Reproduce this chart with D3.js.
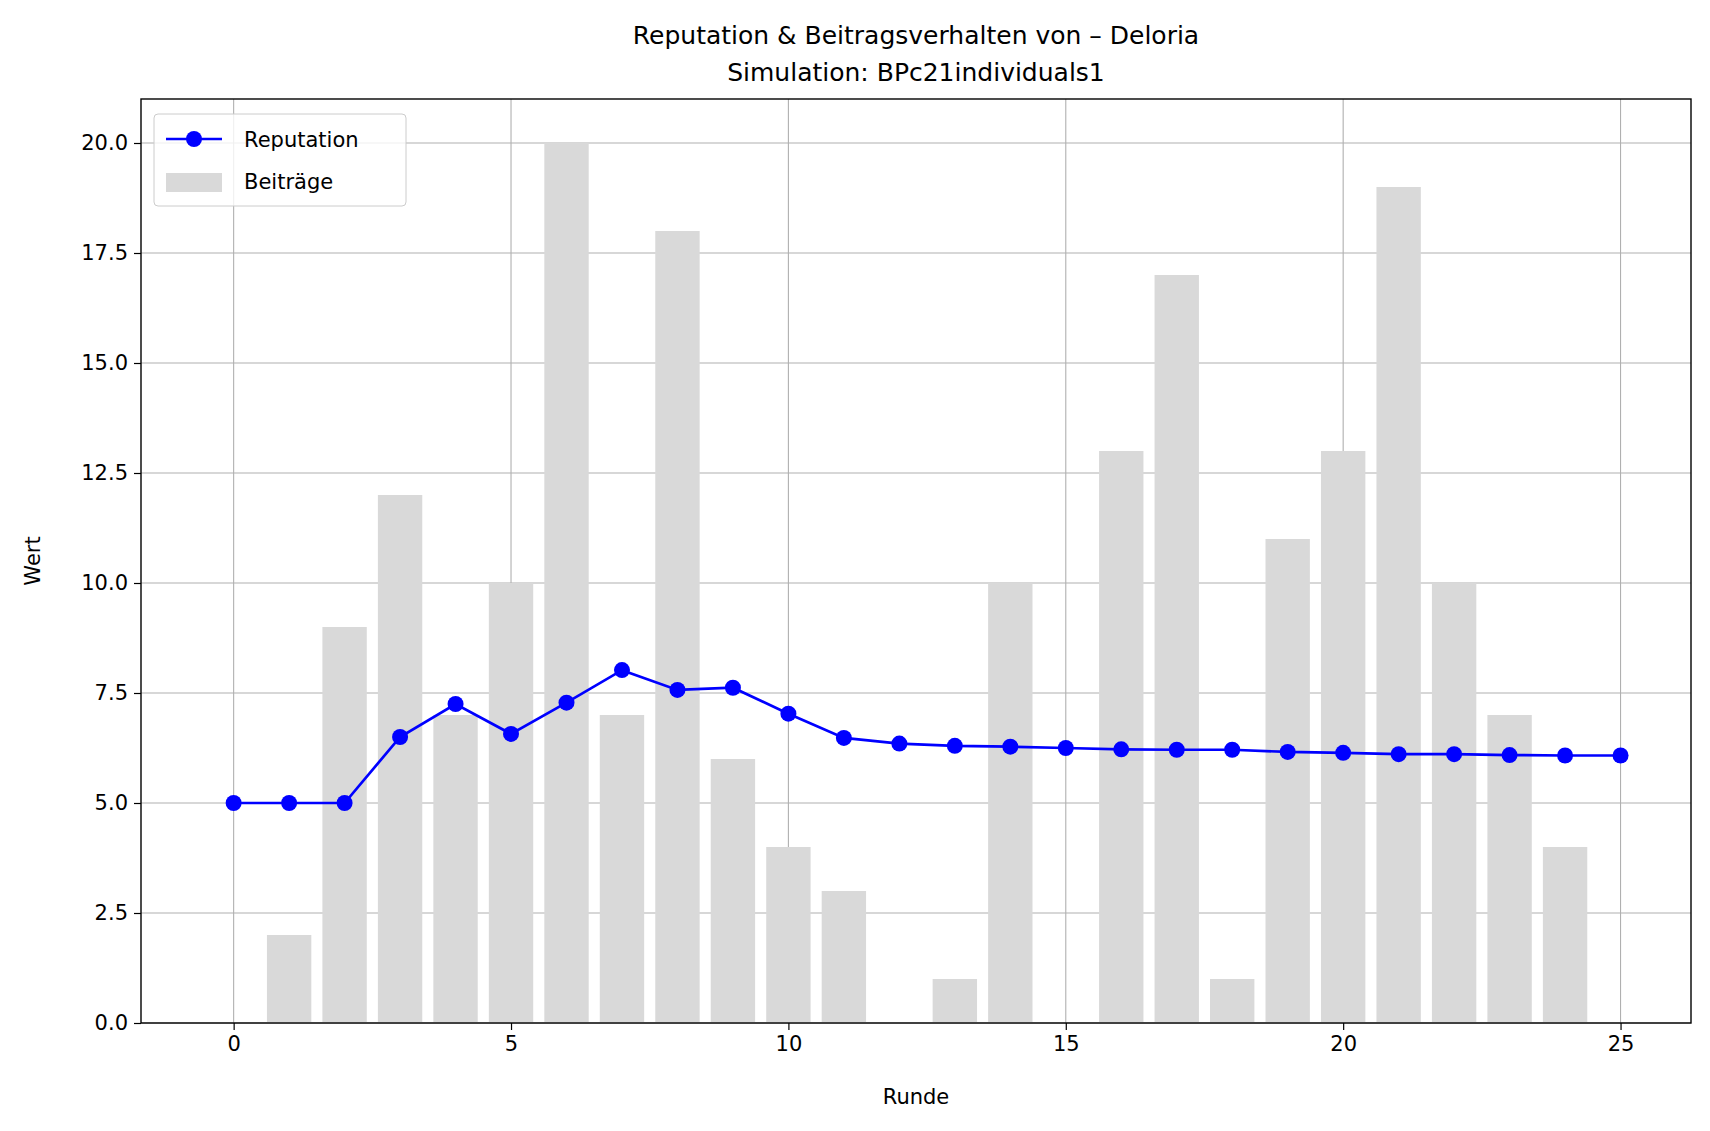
<!DOCTYPE html>
<html>
<head>
<meta charset="utf-8">
<script src="https://d3js.org/d3.v7.min.js"></script>
<style>
  body { margin: 0; background: #fff; }
  text { font-family: "DejaVu Sans", sans-serif; fill: #000; }
</style>
</head>
<body>
<svg id="chart" width="1710" height="1131"></svg>
<script>
var rounds = d3.range(0, 26);
var reputation = [5.0, 5.0, 5.0, 6.5, 7.25, 6.57, 7.28, 8.02, 7.57, 7.62, 7.03, 6.48, 6.35, 6.3, 6.28, 6.25, 6.22, 6.21, 6.21, 6.16, 6.14, 6.11, 6.11, 6.09, 6.08, 6.08];
var beitragRounds = d3.range(0, 25);
var beitraege = [0, 2, 9, 12, 7, 10, 20, 7, 18, 6, 4, 3, 0, 1, 10, 0, 13, 17, 1, 11, 13, 19, 10, 7, 4];
var xTicks = [0, 5, 10, 15, 20, 25];
var yTicks = [0, 2.5, 5, 7.5, 10, 12.5, 15, 17.5, 20];

var L = 141, R = 1691, T = 99, B = 1023;
var svg = d3.select("#chart");
var x = d3.scaleLinear().domain([-1.67, 26.27]).range([L, R]);
var y = d3.scaleLinear().domain([0, 21]).range([B, T]);

// grid
svg.append("g").selectAll("line").data(xTicks).join("line")
  .attr("x1", d => x(d)).attr("x2", d => x(d)).attr("y1", T).attr("y2", B)
  .attr("stroke", "#b0b0b0").attr("stroke-width", 1.1);
svg.append("g").selectAll("line").data(yTicks).join("line")
  .attr("y1", d => y(d)).attr("y2", d => y(d)).attr("x1", L).attr("x2", R)
  .attr("stroke", "#b0b0b0").attr("stroke-width", 1.1);

// bars
var bw = x(0.8) - x(0);
svg.append("g").selectAll("rect").data(beitragRounds).join("rect")
  .attr("x", d => x(d - 0.4)).attr("width", bw)
  .attr("y", d => y(beitraege[d])).attr("height", d => B - y(beitraege[d]))
  .attr("fill", "#d9d9d9");

// line
var line = d3.line().x((d, i) => x(rounds[i])).y(d => y(d));
svg.append("path").datum(reputation).attr("d", line)
  .attr("fill", "none").attr("stroke", "#0000ff").attr("stroke-width", 2.7);
svg.append("g").selectAll("circle").data(reputation).join("circle")
  .attr("cx", (d, i) => x(rounds[i])).attr("cy", d => y(d)).attr("r", 8)
  .attr("fill", "#0000ff");

// axes
var xa = svg.append("g").attr("transform", "translate(0," + B + ")")
  .call(d3.axisBottom(x).tickValues(xTicks).tickSize(7).tickPadding(6).tickFormat(d3.format("d")));
var ya = svg.append("g").attr("transform", "translate(" + L + ",0)")
  .call(d3.axisLeft(y).tickValues(yTicks).tickSize(7).tickPadding(6).tickFormat(d3.format(".1f")));
[xa, ya].forEach(function (a) {
  a.select(".domain").remove();
  a.selectAll("text").style("font-size", "21px").style("font-family", "DejaVu Sans");
  a.selectAll("line").attr("stroke-width", 1.2);
});
svg.append("rect").attr("x", L).attr("y", T).attr("width", R - L).attr("height", B - T)
  .attr("fill", "none").attr("stroke", "#000").attr("stroke-width", 1.4);

// labels
svg.append("text").attr("x", (L + R) / 2).attr("y", 1104).attr("text-anchor", "middle")
  .style("font-size", "21px").text("Runde");
svg.append("text").attr("transform", "translate(40," + (T + B) / 2 + ") rotate(-90)")
  .attr("text-anchor", "middle").style("font-size", "21px").text("Wert");
svg.append("text").attr("x", (L + R) / 2).attr("y", 44).attr("text-anchor", "middle")
  .style("font-size", "25px").text("Reputation & Beitragsverhalten von – Deloria");
svg.append("text").attr("x", (L + R) / 2).attr("y", 81).attr("text-anchor", "middle")
  .style("font-size", "25px").text("Simulation: BPc21individuals1");

// legend
var lg = svg.append("g").attr("transform", "translate(154,114)");
lg.append("rect").attr("width", 252).attr("height", 92).attr("rx", 4)
  .attr("fill", "#fff").attr("fill-opacity", 0.8).attr("stroke", "#ccc");
lg.append("line").attr("x1", 12).attr("x2", 68).attr("y1", 25).attr("y2", 25)
  .attr("stroke", "#0000ff").attr("stroke-width", 2.7);
lg.append("circle").attr("cx", 40).attr("cy", 25).attr("r", 8).attr("fill", "#0000ff");
lg.append("rect").attr("x", 12).attr("y", 59).attr("width", 56).attr("height", 19).attr("fill", "#d9d9d9");
lg.append("text").attr("x", 90).attr("y", 33).style("font-size", "21px").text("Reputation");
lg.append("text").attr("x", 90).attr("y", 75).style("font-size", "21px").text("Beiträge");
</script>
</body>
</html>
